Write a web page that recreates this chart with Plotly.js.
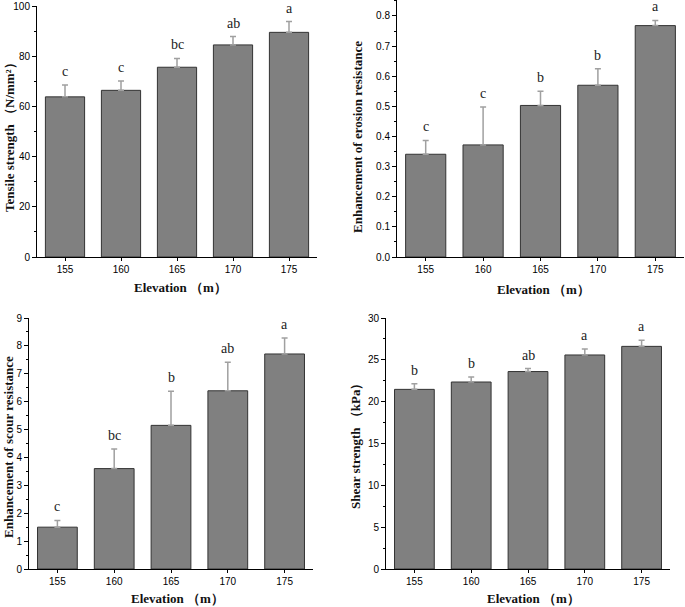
<!DOCTYPE html>
<html><head><meta charset="utf-8">
<script src="https://cdn.plot.ly/plotly-3.0.1.min.js"></script>
<style>html,body{margin:0;padding:0;background:#fff;}</style>
</head><body>
<div id="chart" style="width:685px;height:607px;"></div>
<script>
const elevations = ['155', '160', '165', '170', '175'];

const tensileMean = [63.8, 66.4, 75.6, 84.5, 89.5];
const tensileErr = [4.7, 3.7, 3.5, 3.3, 4.3];
const tensileLetters = ['c', 'c', 'bc', 'ab', 'a'];

const erosionMean = [0.341, 0.372, 0.503, 0.570, 0.768];
const erosionErr = [0.046, 0.126, 0.047, 0.055, 0.017];
const erosionLetters = ['c', 'c', 'b', 'b', 'a'];

const scourMean = [1.50, 3.60, 5.15, 6.39, 7.71];
const scourErr = [0.24, 0.70, 1.22, 1.02, 0.57];
const scourLetters = ['c', 'bc', 'b', 'ab', 'a'];

const shearMean = [21.47, 22.35, 23.6, 25.58, 26.61];
const shearErr = [0.68, 0.6, 0.36, 0.72, 0.72];
const shearLetters = ['b', 'b', 'ab', 'a', 'a'];

const panels = [
  {mean: tensileMean, err: tensileErr, letters: tensileLetters, ax: '', range: [0, 100], dtick: 20, fmt: '', ytitle: 'Tensile strength （N/mm²）'},
  {mean: erosionMean, err: erosionErr, letters: erosionLetters, ax: '2', range: [0, 0.853], dtick: 0.1, fmt: '.1f', ytitle: 'Enhancement of erosion resistance'},
  {mean: scourMean, err: scourErr, letters: scourLetters, ax: '3', range: [0, 9], dtick: 1, fmt: '', ytitle: 'Enhancement of scour resistance'},
  {mean: shearMean, err: shearErr, letters: shearLetters, ax: '4', range: [0, 30], dtick: 5, fmt: '', ytitle: 'Shear strength （kPa）'}
];

const W = 685, H = 607;
// pixel boxes [x0, x1, yTop, yBottom]
const boxes = [
  [37, 317, 6, 257],
  [397, 684, 0, 257],
  [29, 313, 318, 569],
  [386, 670, 318, 569]
];
const ytitlePos = [[9, 134], [357, 137], [8, 447], [355, 443]];
const xtitlePos = [[180, 287], [543, 289], [177, 598], [533, 598]];

const traces = [];
const layout = {
  width: W, height: H,
  margin: {l: 0, r: 0, t: 0, b: 0},
  paper_bgcolor: '#fff', plot_bgcolor: '#fff',
  showlegend: false,
  bargap: 0.3,
  font: {family: 'Liberation Sans, Arial, sans-serif', color: '#000', size: 10},
  annotations: []
};

const titleFont = {family: 'Liberation Serif, Times New Roman, serif', size: 13, color: '#111', weight: 'bold'};

panels.forEach((p, i) => {
  const b = boxes[i];
  traces.push({
    type: 'bar', x: elevations, y: p.mean,
    xaxis: 'x' + p.ax, yaxis: 'y' + p.ax,
    marker: {color: '#808080', line: {color: '#333333', width: 1}},
    error_y: {type: 'data', array: p.err, arrayminus: p.err.map(() => 0), symmetric: false, color: '#a0a0a0', thickness: 1.5, width: 3},
    hoverinfo: 'skip'
  });
  layout['xaxis' + p.ax] = {
    domain: [b[0] / W, b[1] / W], anchor: 'y' + p.ax,
    type: 'category', range: [-0.5, 4.5],
    showline: true, linecolor: '#000', linewidth: 1,
    ticks: 'outside', ticklen: 3, tickcolor: '#000',
    showgrid: false, zeroline: false,
    tickfont: {family: 'Liberation Sans, Arial, sans-serif', size: 10, color: '#000'}
  };
  layout['yaxis' + p.ax] = {
    domain: [1 - b[3] / H, 1 - b[2] / H], anchor: 'x' + p.ax,
    range: p.range, dtick: p.dtick, tick0: 0, tickformat: p.fmt,
    showline: true, linecolor: '#000', linewidth: 1,
    ticks: 'outside', ticklen: 4, tickcolor: '#000',
    minor: {dtick: p.dtick / 2, ticks: 'outside', ticklen: 2, tickcolor: '#000', showgrid: false},
    showgrid: false, zeroline: false,
    tickfont: {family: 'Liberation Sans, Arial, sans-serif', size: 10, color: '#000'}
  };
  p.letters.forEach((L, k) => {
    layout.annotations.push({
      xref: 'x' + p.ax, yref: 'y' + p.ax,
      x: k, y: p.mean[k] + p.err[k],
      text: L, showarrow: false, yanchor: 'bottom', yshift: 4,
      font: {family: 'Liberation Serif, Times New Roman, serif', size: 14, color: '#222'}
    });
  });
  layout.annotations.push({
    xref: 'paper', yref: 'paper',
    x: ytitlePos[i][0] / W, y: 1 - ytitlePos[i][1] / H,
    text: p.ytitle, textangle: -90, showarrow: false,
    xanchor: 'center', yanchor: 'middle', font: titleFont
  });
  layout.annotations.push({
    xref: 'paper', yref: 'paper',
    x: xtitlePos[i][0] / W, y: 1 - xtitlePos[i][1] / H,
    text: 'Elevation （m）', showarrow: false,
    xanchor: 'center', yanchor: 'middle', font: titleFont
  });
});

Plotly.newPlot('chart', traces, layout, {staticPlot: true, displayModeBar: false});
</script>
</body></html>
